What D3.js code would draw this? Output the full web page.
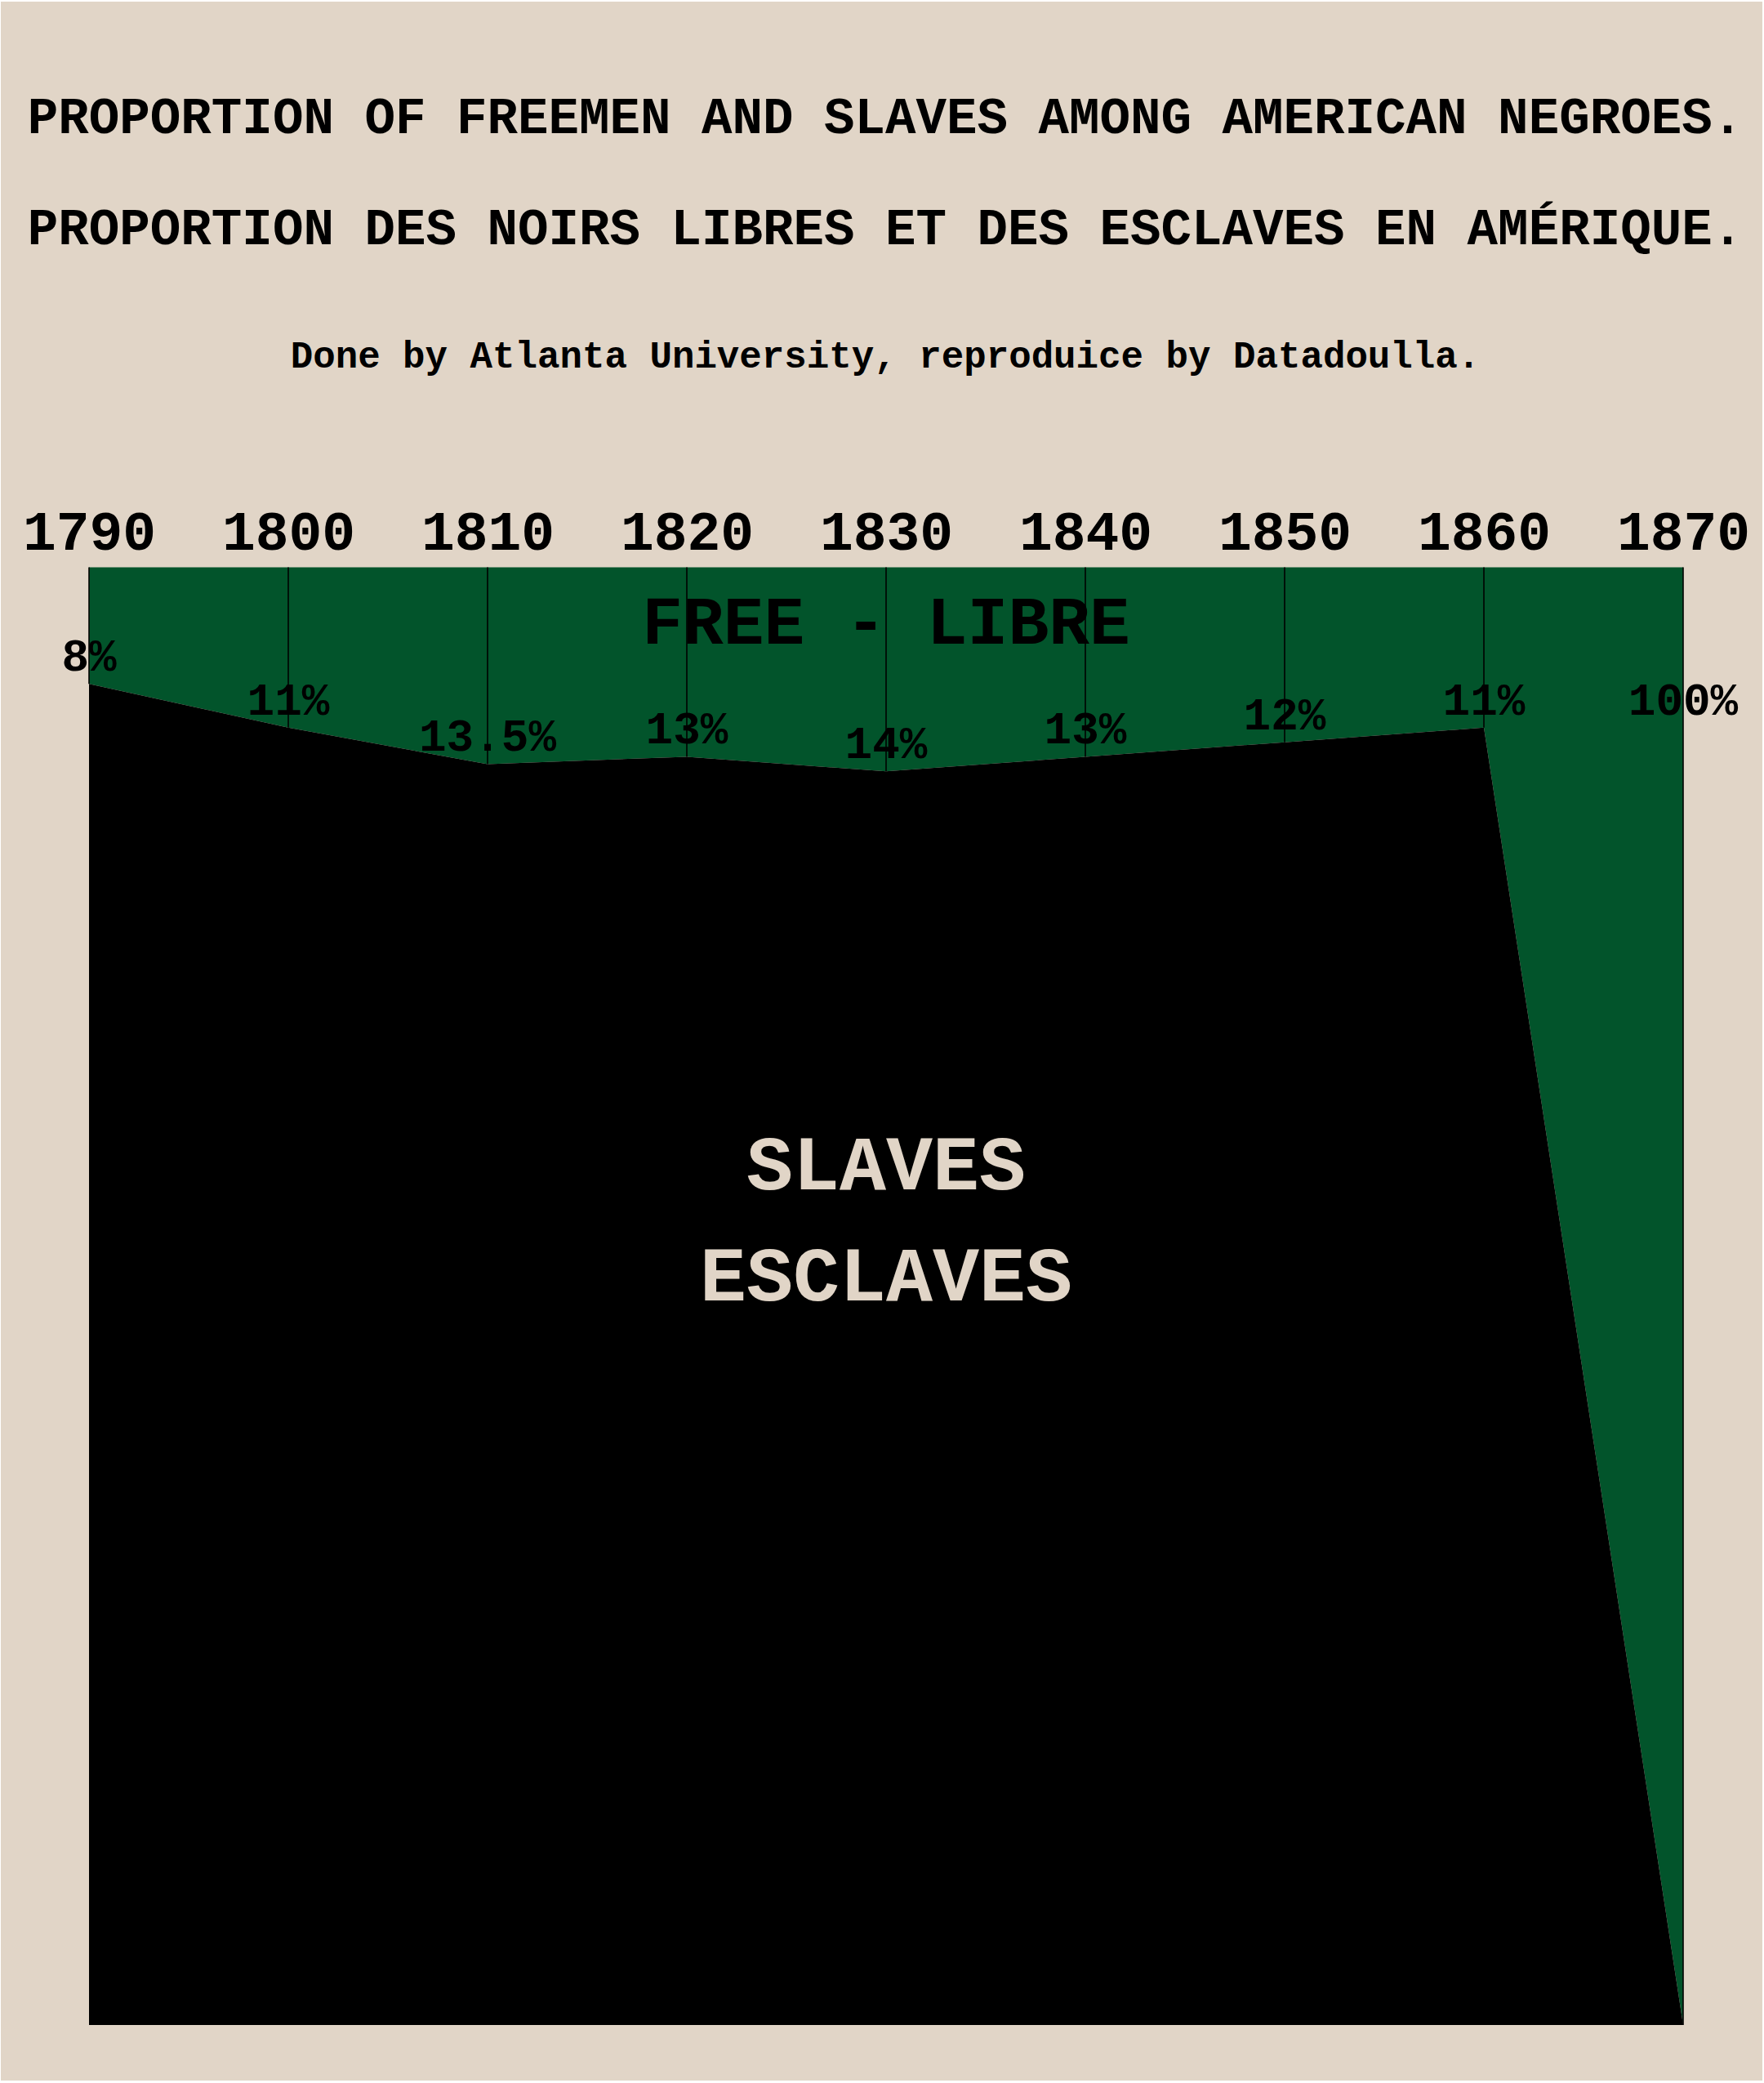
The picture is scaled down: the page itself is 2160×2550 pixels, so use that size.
<!DOCTYPE html>
<html>
<head>
<meta charset="utf-8">
<script src="https://cdn.jsdelivr.net/npm/d3@7"></script>
<style>
  html, body { margin: 0; padding: 0; background: #ffffff; }
  svg { display: block; }
  text { font-family: "Liberation Mono", "DejaVu Sans Mono", monospace; font-weight: bold; }
</style>
</head>
<body>
<div id="chart"></div>
<script>
// ---- data ----
const years = [1790, 1800, 1810, 1820, 1830, 1840, 1850, 1860, 1870];
const freePct = [8, 11, 13.5, 13, 14, 13, 12, 11, 100];
const pctLabels = ["8%", "11%", "13.5%", "13%", "14%", "13%", "12%", "11%", "100%"];
const titleLines = [
  "PROPORTION OF FREEMEN AND SLAVES AMONG AMERICAN NEGROES.",
  "PROPORTION DES NOIRS LIBRES ET DES ESCLAVES EN AMÉRIQUE."
];
const subtitle = "Done by Atlanta University, reproduice by Datadoulla.";
const freeLabel = "FREE - LIBRE";
const slaveLabels = ["SLAVES", "ESCLAVES"];

// ---- layout ----
const W = 2160, H = 2550;
const BG = "#e1d5c7", GREEN = "#02542b", BLACK = "#000000";
const plot = { left: 109, right: 2061, top: 694.5, bottom: 2479 };

const svg = d3.select("#chart").append("svg")
  .attr("width", W).attr("height", H);

svg.append("rect").attr("x", 1).attr("y", 2)
  .attr("width", W - 3).attr("height", H - 5).attr("fill", BG);

const x = d3.scaleLinear().domain(d3.extent(years)).range([plot.left, plot.right]);
const y = d3.scaleLinear().domain([0, 100]).range([plot.top, plot.bottom]);

const data = years.map((yr, i) => ({ year: yr, free: freePct[i], label: pctLabels[i] }));

// free (green) area: top to boundary
svg.append("path").datum(data)
  .attr("fill", GREEN)
  .attr("d", d3.area().x(d => x(d.year)).y0(y(0)).y1(d => y(d.free)));

// slaves (black) area: boundary to bottom
svg.append("path").datum(data)
  .attr("fill", BLACK)
  .attr("d", d3.area().x(d => x(d.year)).y0(d => y(d.free)).y1(y(100)));

// grid lines
svg.append("g").selectAll("line").data(data).join("line")
  .attr("x1", d => x(d.year)).attr("x2", d => x(d.year))
  .attr("y1", y(0)).attr("y2", d => y(d.free))
  .attr("stroke", BLACK).attr("stroke-width", 1.6);

// year axis on top
const axis = d3.axisTop(x).tickValues(years).tickFormat(d3.format("d")).tickSize(0).tickPadding(0);
const gAxis = svg.append("g").attr("transform", `translate(0,${673})`).call(axis);
gAxis.select(".domain").remove();
gAxis.selectAll("text")
  .attr("dy", 0)
  .attr("fill", BLACK)
  .style("font-size", "68px")
  .style("font-family", "'Liberation Mono', monospace")
  .style("font-weight", "bold");

// percentage labels
svg.append("g").selectAll("text").data(data).join("text")
  .attr("x", d => x(d.year))
  .attr("y", (d, i) => y(i === data.length - 1 ? data[i - 1].free : d.free) - 16)
  .attr("text-anchor", "middle")
  .attr("fill", BLACK)
  .style("font-size", "56px")
  .text(d => d.label);

// titles
const cx = 1084;
svg.append("g").selectAll("text").data(titleLines).join("text")
  .attr("x", cx).attr("y", (d, i) => 163 + i * 135.5)
  .attr("text-anchor", "middle").attr("fill", BLACK)
  .style("font-size", "62.5px")
  .text(d => d);

svg.append("text").attr("x", cx).attr("y", 450)
  .attr("text-anchor", "middle").attr("fill", BLACK)
  .style("font-size", "45.8px")
  .text(subtitle);

// FREE - LIBRE
svg.append("text").attr("x", (plot.left + plot.right) / 2).attr("y", 788)
  .attr("text-anchor", "middle").attr("fill", BLACK)
  .style("font-size", "83px")
  .text(freeLabel);

// SLAVES / ESCLAVES
svg.append("g").selectAll("text").data(slaveLabels).join("text")
  .attr("x", (plot.left + plot.right) / 2).attr("y", (d, i) => 1456 + i * 136)
  .attr("text-anchor", "middle").attr("fill", BG)
  .style("font-size", "95px")
  .text(d => d);
</script>
</body>
</html>
